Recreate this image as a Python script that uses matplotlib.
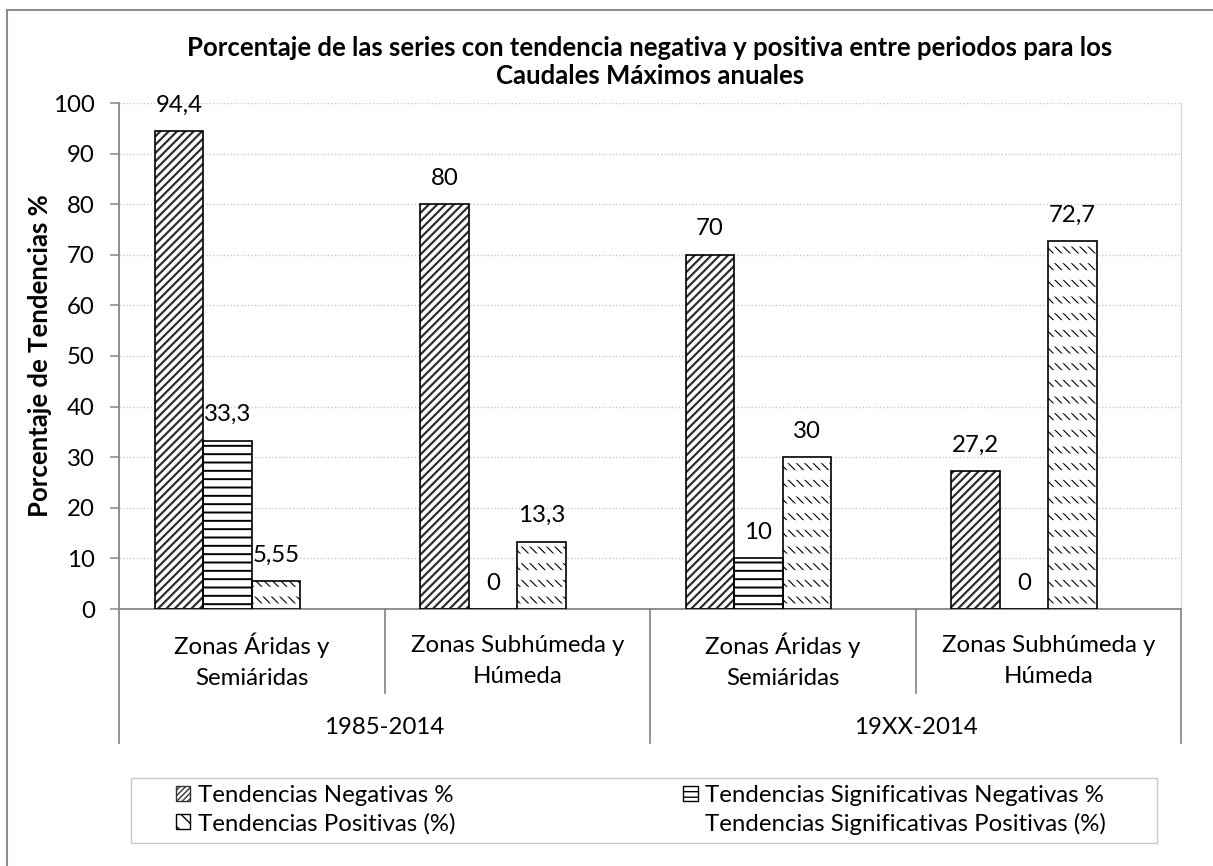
import numpy as np
import matplotlib
matplotlib.use("Agg")
import matplotlib.pyplot as plt
from matplotlib.patches import Patch, Rectangle
from matplotlib.lines import Line2D

plt.rcParams['font.family'] = ['Lato', 'DejaVu Sans']

# ---------------- data ----------------
categories = ["Zonas Áridas y\nSemiáridas", "Zonas Subhúmeda y\nHúmeda",
              "Zonas Áridas y\nSemiáridas", "Zonas Subhúmeda y\nHúmeda"]
periods = ["1985-2014", "19XX-2014"]
series_names = ["Tendencias Negativas %", "Tendencias Significativas Negativas %",
                "Tendencias Positivas (%)", "Tendencias Significativas Positivas (%)"]
neg = [94.4, 80, 70, 27.2]
sig_neg = [33.3, 0, 10, 0]
pos = [5.55, 13.3, 30, 72.7]
sig_pos = [np.nan, np.nan, np.nan, np.nan]
labels_neg = ["94,4", "80", "70", "27,2"]
labels_sig_neg = ["33,3", "0", "10", "0"]
labels_pos = ["5,55", "13,3", "30", "72,7"]
yticks = [0, 10, 20, 30, 40, 50, 60, 70, 80, 90, 100]
title = "Porcentaje de las series con tendencia negativa y positiva entre periodos para los\nCaudales Máximos anuales"
ylabel = "Porcentaje de Tendencias %"

W, H = 1213, 866
FS = 17.3
FSB = 18.5
fig = plt.figure(figsize=(W / 100, H / 100), dpi=100)
ax = fig.add_axes([119 / W, 1 - 609 / H, (1181 - 119) / W, (609 - 103) / H])

n = len(categories)
bw = 0.183
off = 0.134
x0 = np.arange(n)

def hatched(vals, j, hatch, hcolor, hlw, face='white', face_none=False, z=2):
    xs = x0 + off + j * bw
    with plt.rc_context({'hatch.linewidth': hlw}):
        b = ax.bar(xs, vals, bw, align='edge',
                   facecolor=('none' if face_none else face), edgecolor=hcolor,
                   linewidth=0, hatch=hatch, zorder=z)
        for p in b:
            if hasattr(p, 'set_hatch_linewidth'):
                p.set_hatch_linewidth(hlw)
    return xs

def outline(vals, j):
    xs = x0 + off + j * bw
    ax.bar(xs, vals, bw, align='edge', facecolor='none', edgecolor='black',
           linewidth=1.2, zorder=4)

# series 1: dark diagonal
hatched(neg, 0, '////', '#2e2e2e', 1.6)
outline(neg, 0)
# series 2: horizontal lines
hatched(sig_neg, 1, '--', 'black', 1.4)
outline(sig_neg, 1)
# series 3: dashed downward diagonal
hatched(pos, 2, '\\\\\\\\', 'black', 0.8)
hatched(pos, 2, '-', 'white', 7.0, face_none=True, z=3)
outline(pos, 2)
# series 4: empty
ax.bar(x0 + off + 3 * bw, sig_pos, bw, align='edge', facecolor='none', edgecolor='none')

# data labels
for j, (vals, labs) in enumerate([(neg, labels_neg), (sig_neg, labels_sig_neg), (pos, labels_pos)]):
    for i, (v, l) in enumerate(zip(vals, labs)):
        ax.annotate(l, (x0[i] + off + j * bw + bw / 2, v), xytext=(0, 18.7),
                    textcoords='offset points', ha='center', va='center',
                    fontsize=FS, zorder=5)

ax.set_xlim(0, n)
ax.set_ylim(0, 100)
ax.set_yticks(yticks)
ax.set_yticklabels([str(t) for t in yticks], fontsize=FS)
ax.set_xticks([])
ax.tick_params(axis='y', length=6.5, width=1.1, color='#868686', pad=11)
ax.yaxis.grid(True, linestyle=(0, (1, 1.5)), color='#c8c8c8', linewidth=1.0, zorder=0)
ax.set_axisbelow(True)
ax.spines['top'].set_visible(False)
ax.spines['left'].set_color('#868686')
ax.spines['left'].set_linewidth(1.3)
ax.spines['bottom'].set_color('#868686')
ax.spines['bottom'].set_linewidth(1.3)
ax.spines['right'].set_color('#d9d9d9')
ax.spines['right'].set_linewidth(1.0)

# category axis (two levels)
tr = ax.get_xaxis_transform()
def px_to_axes_y(py):
    return (609 - py) / (609 - 103)
for i in range(n):
    ax.text(i + 0.5, px_to_axes_y(661), categories[i], transform=tr, ha='center',
            va='center', fontsize=FS, linespacing=1.6)
for k, p in enumerate(periods):
    ax.text(2 * k + 1, px_to_axes_y(728), p, transform=tr, ha='center', va='center', fontsize=FS)
for xb in range(n + 1):
    bottom = 743 if xb % 2 == 0 else 693
    ax.add_line(Line2D([xb, xb], [0, px_to_axes_y(bottom)], transform=tr, color='#8c8c8c',
                       linewidth=1.3, clip_on=False))

# title and y label
fig.text(650 / W, 1 - 62 / H, title, ha='center', va='center', fontsize=FSB,
         fontweight='bold', linespacing=1.25)
fig.text(40 / W, 1 - 356 / H, ylabel, ha='center', va='center', rotation=90,
         fontsize=FSB, fontweight='bold')

# legend
fig.patches.append(Rectangle((131 / W, 1 - 843 / H), (1157 - 131) / W, (843 - 778) / H,
                             transform=fig.transFigure, facecolor='none',
                             edgecolor='#c8c8c8', linewidth=1.0))
with plt.rc_context({'hatch.linewidth': 1.0}):
    handles = [
        Patch(facecolor='white', edgecolor='#333333', hatch='//////', linewidth=1.0),
        Patch(facecolor='white', edgecolor='black', hatch='---', linewidth=1.0),
        Patch(facecolor='white', edgecolor='black', hatch='\\\\', linewidth=1.0),
        Patch(facecolor='none', edgecolor='none'),
    ]
order = [0, 2, 1, 3]
leg = fig.legend([handles[k] for k in order], [series_names[k] for k in order],
                 loc='center left', bbox_to_anchor=(176 / W, 1 - 810 / H),
                 ncol=2, frameon=False, fontsize=FS, handlelength=0.6, handleheight=0.6,
                 handletextpad=0.3, columnspacing=9.5, labelspacing=0.28, borderpad=0,
                 borderaxespad=0)

# outer chart border (left and top visible)
fig.add_artist(Line2D([7 / W, 7 / W], [0, 1 - 10 / H], transform=fig.transFigure,
                      color='#8c8c8c', linewidth=1.5))
fig.add_artist(Line2D([7 / W, 1], [1 - 10 / H, 1 - 10 / H], transform=fig.transFigure,
                      color='#8c8c8c', linewidth=1.5))

fig.savefig('out.png', dpi=100)
